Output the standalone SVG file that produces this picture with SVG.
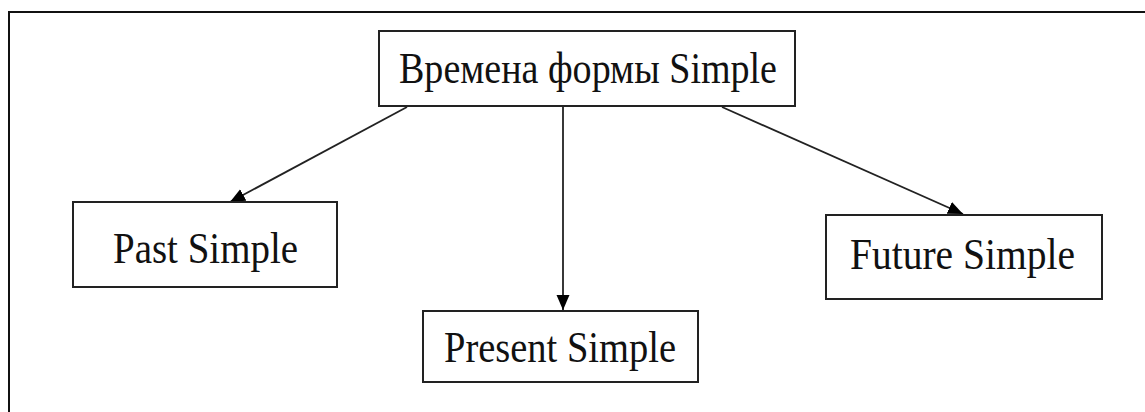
<svg xmlns="http://www.w3.org/2000/svg" width="1145" height="412" viewBox="0 0 1145 412">
<style>
.box{fill:#fff;stroke:#222;stroke-width:2}
.lbl{font-family:"Liberation Serif","Times New Roman",serif;font-size:44px;fill:#111}
.conn{stroke:#222;stroke-width:1.8;fill:none}
</style>
<defs>
<marker id="arr" markerUnits="userSpaceOnUse" markerWidth="16" markerHeight="14" refX="15" refY="7" orient="auto">
<path d="M0,0.5 L15,7 L0,13.5 z" fill="#000"/>
</marker>
</defs>
<rect width="1145" height="412" fill="#fff"/>
<path d="M9,412 V12 H1145" fill="none" stroke="#111" stroke-width="2"/>
<g id="connectors">
<line class="conn" x1="407" y1="107" x2="230" y2="202" marker-end="url(#arr)"/>
<line class="conn" x1="563" y1="107" x2="563" y2="310" marker-end="url(#arr)"/>
<line class="conn" x1="722" y1="107" x2="963" y2="214" marker-end="url(#arr)"/>
</g>
<g id="root">
<rect class="box" x="379" y="31" width="416" height="75"/>
<text class="lbl" x="399" y="83" textLength="378" lengthAdjust="spacingAndGlyphs">Времена формы Simple</text>
</g>
<g id="past">
<rect class="box" x="73" y="202" width="264" height="85"/>
<text class="lbl" x="113" y="263" textLength="185" lengthAdjust="spacingAndGlyphs">Past Simple</text>
</g>
<g id="present">
<rect class="box" x="423" y="311" width="275" height="71"/>
<text class="lbl" x="444" y="362" textLength="232" lengthAdjust="spacingAndGlyphs">Present Simple</text>
</g>
<g id="future">
<rect class="box" x="826" y="215" width="276" height="84"/>
<text class="lbl" x="850" y="269" textLength="225" lengthAdjust="spacingAndGlyphs">Future Simple</text>
</g>
</svg>
